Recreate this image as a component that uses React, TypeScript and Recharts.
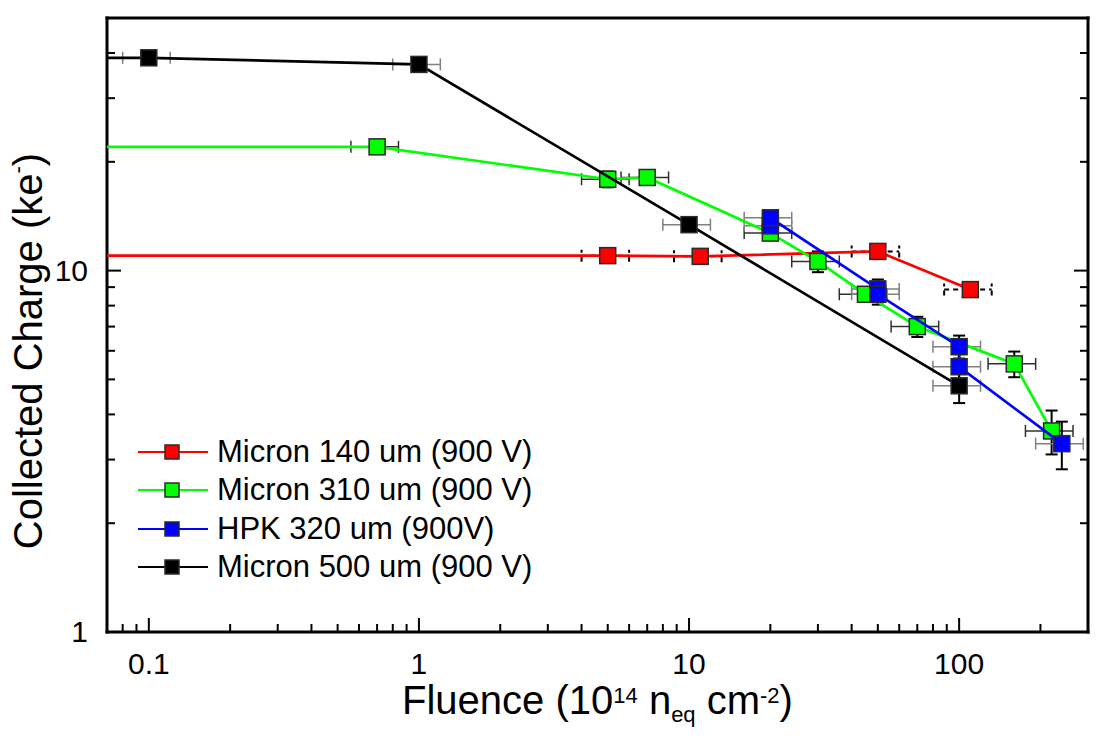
import React from "react";
import { ScatterChart, Scatter, XAxis, YAxis, ErrorBar, Legend } from "recharts";

const FONT = '"Liberation Sans", Arial, Helvetica, sans-serif';

// axis ticks (log axes, majors carry labels)
const X_MAJOR = [0.1, 1, 10, 100];
const X_MINOR = [0.08, 0.09, 0.2, 0.3, 0.4, 0.5, 0.6, 0.7, 0.8, 0.9, 2, 3, 4, 5, 6, 7, 8, 9, 20, 30, 40, 50, 60, 70, 80, 90, 200];
const Y_MAJOR = [1, 10];
const Y_MINOR = [2, 3, 4, 5, 6, 7, 8, 9, 20, 30, 40];

// Micron 140 um (900 V) - first point is the unirradiated sensor, left of the axis
const m140Fluence = [0.01, 5, 11, 50, 110];
const m140Charge = [11.0, 11.0, 10.95, 11.3, 8.86];
const m140FluenceErr = [0, 1, 2.2, 10, 22];
const m140ChargeErr = [0, 0.2, 0.2, 0.25, 0.25];

// Micron 310 um (900 V)
const m310Fluence = [0.01, 0.7, 5, 7, 20, 30, 45, 70, 160, 220];
const m310Charge = [22.0, 22.0, 17.9, 18.1, 12.7, 10.6, 8.6, 7.0, 5.52, 3.6];
const m310FluenceErr = [0, 0.14, 1, 1.4, 4, 6, 9, 14, 32, 44];
const m310ChargeErr = [0, 0.6, 0.9, 0.7, 0.5, 0.7, 0.4, 0.45, 0.45, 0.5];

// HPK 320 um (900V)
const hpkFluence = [20, 20, 50, 50, 100, 100, 240];
const hpkCharge = [13.3, 14.0, 8.9, 8.6, 6.16, 5.42, 3.32];
const hpkFluenceErr = [4, 4, 10, 10, 20, 20, 48];
const hpkChargeErr = [0.5, 0.5, 0.55, 0.55, 0.45, 0.45, 0.5];

// Micron 500 um (900 V)
const m500Fluence = [0.01, 0.1, 1, 10, 100];
const m500Charge = [38.8, 38.8, 37.2, 13.4, 4.8];
const m500FluenceErr = [0, 0.02, 0.2, 2, 20];
const m500ChargeErr = [0, 1.2, 1.2, 0.5, 0.5];

const toPoints = (xs: number[], ys: number[], exs: number[], eys: number[]) =>
  xs.map((x, i) => ({ x, y: ys[i], ex: exs[i], ey: eys[i] }));

const SERIES = [
  { name: "Micron 140 um (900 V)", color: "#ff0000", xErr: "#000000", xDash: "5 4", xW: 2, data: toPoints(m140Fluence, m140Charge, m140FluenceErr, m140ChargeErr) },
  { name: "Micron 310 um (900 V)", color: "#00ff00", xErr: "#303030", xDash: undefined, xW: 1.5, data: toPoints(m310Fluence, m310Charge, m310FluenceErr, m310ChargeErr) },
  { name: "HPK 320 um (900V)", color: "#0000ff", xErr: "#808080", xDash: undefined, xW: 1.5, data: toPoints(hpkFluence, hpkCharge, hpkFluenceErr, hpkChargeErr) },
  { name: "Micron 500 um (900 V)", color: "#000000", xErr: "#808080", xDash: undefined, xW: 1.5, data: toPoints(m500Fluence, m500Charge, m500FluenceErr, m500ChargeErr) },
];

const X_TICKS = [...X_MAJOR, ...X_MINOR].sort((a, b) => a - b);
const Y_TICKS = [...Y_MAJOR, ...Y_MINOR].sort((a, b) => a - b);
const FRAME = { stroke: "#000", strokeWidth: 3, strokeLinecap: "square" as const };

function FrameTick(props: any) {
  const { x, y, payload, side } = props;
  const v = payload.value;
  const horiz = side === "bottom" || side === "top";
  const major = (horiz ? X_MAJOR : Y_MAJOR).includes(v);
  const len = major ? 14 : 8;
  let x2 = x;
  let y2 = y;
  if (side === "bottom") y2 = y - len;
  if (side === "top") y2 = y + len;
  if (side === "left") x2 = x + len;
  if (side === "right") x2 = x - len;
  return (
    <g>
      <line x1={x} y1={y} x2={x2} y2={y2} stroke="#000" strokeWidth={2} />
      {major && side === "bottom" && (
        <text x={x} y={y + 42} textAnchor="middle" fontFamily={FONT} fontSize={30} fill="#000">{v}</text>
      )}
      {major && side === "left" && (
        <text x={x - 19} y={y + 10} textAnchor="end" fontFamily={FONT} fontSize={30} fill="#000">{v}</text>
      )}
    </g>
  );
}

function XTitle(props: any) {
  const vb = props.viewBox;
  const cx = vb.x + vb.width / 2;
  const y = vb.y + 82;
  return (
    <text x={cx} y={y} textAnchor="middle" fontFamily={FONT} fontSize={40} fill="#000">
      Fluence (10<tspan dy={-11} fontSize={22}>14</tspan><tspan dy={11}> n</tspan>
      <tspan dy={8} fontSize={22}>eq</tspan><tspan dy={-8}> cm</tspan>
      <tspan dy={-11} fontSize={22}>-2</tspan><tspan dy={11}>)</tspan>
    </text>
  );
}

function YTitle(props: any) {
  const vb = props.viewBox;
  const x = vb.x + 42;
  const y = vb.y + vb.height / 2 + 26;
  return (
    <text x={x} y={y} transform={`rotate(-90 ${x} ${y})`} textAnchor="middle" fontFamily={FONT} fontSize={40} fill="#000">
      Collected Charge (ke<tspan dy={-17} fontSize={22}>-</tspan><tspan dy={17}>)</tspan>
    </text>
  );
}

function Square(props: any) {
  const { cx, cy, fill } = props;
  if (cx == null || cy == null) return null;
  return <rect x={cx - 8} y={cy - 8} width={16} height={16} fill={fill} stroke="#2a2a2a" strokeWidth={1.5} />;
}

function LegendBox() {
  return (
    <div style={{ fontFamily: FONT, fontSize: 31, color: "#000" }}>
      {SERIES.map((s) => (
        <div key={s.name} style={{ display: "flex", alignItems: "center", height: 38.3 }}>
          <svg width={72} height={20} style={{ display: "block" }}>
            <line x1={1} x2={71} y1={10} y2={10} stroke={s.color} strokeWidth={2} />
            <rect x={28} y={3} width={14} height={14} fill={s.color} stroke="#2a2a2a" strokeWidth={1.5} />
          </svg>
          <span style={{ marginLeft: 8, whiteSpace: "nowrap" }}>{s.name}</span>
        </div>
      ))}
    </div>
  );
}

export default function App() {
  return (
    <div style={{ position: "absolute", left: 0, top: 0, width: 1108, height: 739, background: "#fff" }}>
      <ScatterChart width={1108} height={739} margin={{ top: 17, right: 19, bottom: 0, left: 0 }}>
        <XAxis
          type="number" dataKey="x" scale="log" domain={[0.07, 300]} allowDataOverflow
          ticks={X_TICKS} interval={0} height={107} tickSize={0} tickMargin={0}
          axisLine={FRAME} tickLine={false} tick={(p: any) => <FrameTick {...p} side="bottom" />}
          label={<XTitle />}
        />
        <XAxis
          xAxisId="top" orientation="top" type="number" scale="log" domain={[0.07, 300]} allowDataOverflow
          ticks={X_TICKS} interval={0} height={1} tickSize={0} tickMargin={0}
          axisLine={FRAME} tickLine={false} tick={(p: any) => <FrameTick {...p} side="top" />}
        />
        <YAxis
          type="number" dataKey="y" scale="log" domain={[1, 50]} allowDataOverflow
          ticks={Y_TICKS} interval={0} width={107} tickSize={0} tickMargin={0}
          axisLine={FRAME} tickLine={false} tick={(p: any) => <FrameTick {...p} side="left" />}
          label={<YTitle />}
        />
        <YAxis
          yAxisId="right" orientation="right" type="number" scale="log" domain={[1, 50]} allowDataOverflow
          ticks={Y_TICKS} interval={0} width={1} tickSize={0} tickMargin={0}
          axisLine={FRAME} tickLine={false} tick={(p: any) => <FrameTick {...p} side="right" />}
        />
        <Legend
          layout="vertical" align="center" verticalAlign="middle"
          content={() => <LegendBox />}
          wrapperStyle={{ left: 137, top: 433, width: 460, height: 160 }}
        />
        {SERIES.map((s) => (
          <Scatter
            key={s.name} name={s.name} data={s.data} fill={s.color}
            line={{ stroke: s.color, strokeWidth: 2.7 }} lineType="joint"
            shape={(p: any) => <Square {...p} />} isAnimationActive={false}
          >
            <ErrorBar dataKey="ex" direction="x" width={6} stroke={s.xErr} strokeWidth={s.xW} strokeDasharray={s.xDash} isAnimationActive={false} />
            <ErrorBar dataKey="ey" direction="y" width={6} stroke="#000" strokeWidth={2} isAnimationActive={false} />
          </Scatter>
        ))}
      </ScatterChart>
    </div>
  );
}
